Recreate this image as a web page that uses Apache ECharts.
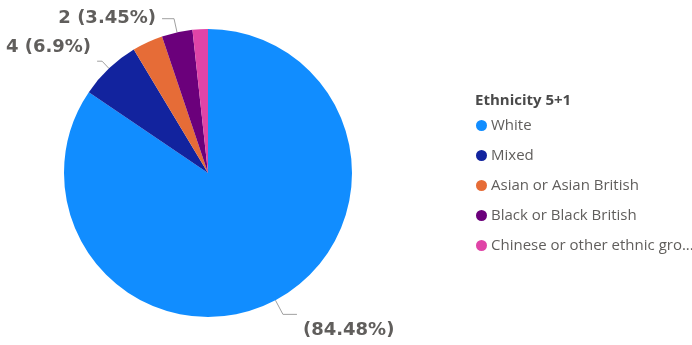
<!DOCTYPE html>
<html>
<head>
<meta charset="utf-8">
<script src="https://cdn.jsdelivr.net/npm/echarts@6/dist/echarts.min.js"></script>
<style>
  html, body { margin: 0; padding: 0; background: #ffffff; }
  #chart { width: 692px; height: 345px; }
</style>
</head>
<body>
<div id="chart"></div>
<script>
// Ethnicity breakdown (counts)
const categories = ['White', 'Mixed', 'Asian or Asian British', 'Black or Black British', 'Chinese or other ethnic group'];
const counts = [49, 4, 2, 2, 1];
const colors = ['#118DFF', '#12239E', '#E66C37', '#6B007B', '#E044A7'];
// Which slices carry a data label, and its form
const labelModes = ['pct', 'full', 'none', 'full', 'none'];
const legendTitle = 'Ethnicity 5+1';

const textColor = '#605E5C';
const fontFamily = '"Open Sans", "Noto Sans", sans-serif';
const labelFont = '"DejaVu Sans", "Open Sans", sans-serif';

const data = categories.map((name, i) => {
  const mode = labelModes[i];
  const item = { name: name, value: counts[i], itemStyle: { color: colors[i] } };
  if (mode === 'none') {
    item.label = { show: false };
    item.labelLine = { show: false };
  } else if (mode === 'pct') {
    // empty first line drops the text below the leader line's end
    item.label = { formatter: '\n({d}%)', lineHeight: 32 };
    item.labelLine = { length: 16, length2: 14 };
  } else if (name === 'Mixed') {
    // empty last line lifts the text above the leader line's end
    item.label = { formatter: '{c} ({d}%)\n', lineHeight: 28 };
    item.labelLine = { length: 10, length2: 5 };
  }
  return item;
});

const chart = echarts.init(document.getElementById('chart'), null, { renderer: 'canvas' });
chart.setOption({
  animation: false,
  backgroundColor: '#ffffff',
  title: {
    text: legendTitle,
    left: 470,
    top: 88,
    textStyle: { fontFamily: fontFamily, fontSize: 15, fontWeight: 'bold', color: '#4A4A4A' }
  },
  legend: {
    orient: 'vertical',
    left: 476,
    top: 118,
    padding: 0,
    icon: 'circle',
    itemWidth: 11,
    itemHeight: 11,
    itemGap: 15,
    data: categories,
    textStyle: {
      fontFamily: fontFamily,
      fontSize: 15,
      color: textColor,
      padding: [0, 0, 0, -1],
      width: 207,
      overflow: 'truncate',
      ellipsis: '...'
    }
  },
  series: [{
    type: 'pie',
    center: [208, 173],
    radius: [0, 144],
    startAngle: 90,
    clockwise: true,
    avoidLabelOverlap: true,
    data: data,
    label: {
      show: true,
      position: 'outside',
      formatter: '{c} ({d}%)',
      fontFamily: labelFont,
      fontSize: 18,
      fontWeight: 'bold',
      color: textColor,
      overflow: 'none',
      distanceToLabelLine: 6
    },
    labelLine: {
      show: true,
      length: 14,
      length2: 12,
      smooth: false,
      lineStyle: { color: '#A0A0A0', width: 1 }
    },
    emphasis: { disabled: true }
  }]
});
</script>
</body>
</html>
